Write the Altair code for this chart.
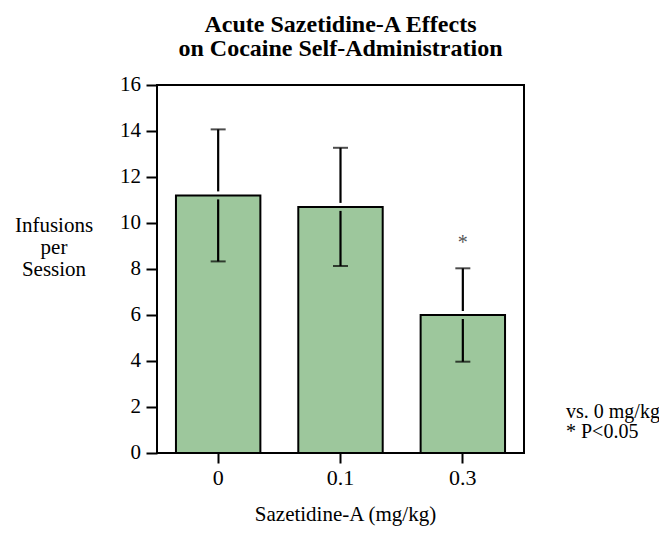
import altair as alt
import pandas as pd

doses = ["0", "0.1", "0.3"]
means = [11.2, 10.7, 6.0]
errors = [2.87, 2.57, 2.03]
stars = ["", "", "*"]
y_ticks = [0, 2, 4, 6, 8, 10, 12, 14, 16]

df = pd.DataFrame({"dose": doses, "mean": means, "err": errors, "star": stars})
df["upper"] = df["mean"] + df["err"]
df["lower"] = df["mean"] - df["err"]

FONT = "Liberation Serif"
W, H = 367, 368

xscale = alt.Scale(domain=doses, paddingInner=0.31, paddingOuter=0.155)
yscale = alt.Scale(domain=[0, 16], nice=False)

base = alt.Chart(df)

bars = base.mark_bar(color="#9DC79C", stroke="black", strokeWidth=2).encode(
    x=alt.X("dose:N", scale=xscale,
            axis=alt.Axis(title=None, labels=False, tickSize=10, tickWidth=2,
                          tickColor="black", domain=False)),
    y=alt.Y("mean:Q", scale=yscale,
            axis=alt.Axis(values=y_ticks, title=None, labels=False, tickSize=11, tickWidth=2,
                          tickColor="black", domain=False, grid=False)),
)

err_up = base.mark_rule(color="black", strokeWidth=2.2, y2Offset=-4).encode(
    x=alt.X("dose:N", scale=xscale), y="upper:Q", y2="mean:Q")
err_lo = base.mark_rule(color="black", strokeWidth=2.2, yOffset=4).encode(
    x=alt.X("dose:N", scale=xscale), y="mean:Q", y2="lower:Q")
cap_up = base.mark_tick(color="black", size=15, thickness=2).encode(
    x=alt.X("dose:N", scale=xscale), y="upper:Q")
cap_lo = base.mark_tick(color="black", size=15, thickness=2).encode(
    x=alt.X("dose:N", scale=xscale), y="lower:Q")
star = base.mark_text(font=FONT, fontSize=20, color="#555555", dy=-25).encode(
    x=alt.X("dose:N", scale=xscale), y="upper:Q", text="star:N")

# tick labels as text
xlab = base.mark_text(font=FONT, fontSize=22, color="black", baseline="middle").encode(
    x=alt.X("dose:N", scale=xscale), y=alt.value(H + 25), text="dose:N")
ylab = alt.Chart(pd.DataFrame({"v": y_ticks})).mark_text(
    font=FONT, fontSize=21, color="black", align="right", baseline="middle").encode(
    x=alt.value(-16), y=alt.Y("v:Q", scale=yscale), text="v:Q")

xtitle = alt.Chart(pd.DataFrame({"t": ["Sazetidine-A (mg/kg)"]})).mark_text(
    font=FONT, fontSize=21, color="black", baseline="alphabetic").encode(
    x=alt.value(W / 2 + 5), y=alt.value(436), text="t:N")
ytitle = alt.Chart(pd.DataFrame({"t": ["Infusions\nper\nSession"]})).mark_text(
    font=FONT, fontSize=21, color="black", baseline="alphabetic", lineBreak="\n",
    lineHeight=22).encode(
    x=alt.value(-103), y=alt.value(147), text="t:N")

note1 = alt.Chart(pd.DataFrame({"t": ["vs. 0 mg/kg"]})).mark_text(
    font=FONT, fontSize=20, align="left", baseline="middle", color="black").encode(
    x=alt.value(409), y=alt.value(327), text="t:N")
note2 = alt.Chart(pd.DataFrame({"t": ["* P<0.05"]})).mark_text(
    font=FONT, fontSize=20, align="left", baseline="middle", color="black").encode(
    x=alt.value(409), y=alt.value(347), text="t:N")

chart = alt.layer(bars, err_up, err_lo, cap_up, cap_lo, star, xlab, ylab, xtitle, ytitle,
                  note1, note2).properties(
    width=W, height=H,
    title=alt.TitleParams(["Acute Sazetidine-A Effects", "on Cocaine Self-Administration"],
                          font=FONT, fontSize=24, fontWeight="bold", lineHeight=24,
                          anchor="middle", offset=13, color="black"),
    autosize=alt.AutoSizeParams(type="none"),
    padding={"left": 149, "top": 77, "right": 135, "bottom": 73},
).configure(background="white").configure_view(stroke="black", strokeWidth=2)

chart.save("out.html", embed_options={"renderer": "svg", "actions": False})
